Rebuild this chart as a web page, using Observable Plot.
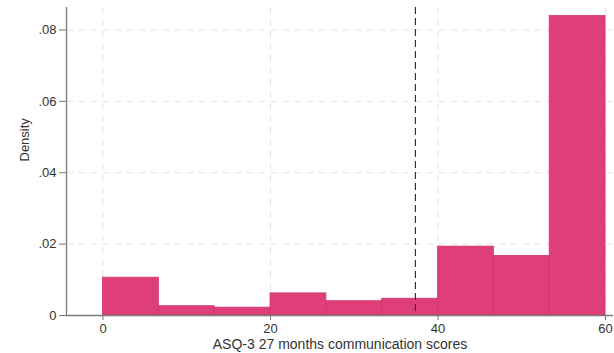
<!DOCTYPE html>
<html>
<head>
<meta charset="utf-8">
<script src="https://cdn.jsdelivr.net/npm/d3@7"></script>
<script src="https://cdn.jsdelivr.net/npm/@observablehq/plot@0.6"></script>
<style>
  html, body { margin: 0; padding: 0; background: #fff; }
  #chart svg { display: block; font-family: "Liberation Sans", Arial, sans-serif; }
</style>
</head>
<body>
<div id="chart"></div>
<script>
// Histogram bins of ASQ-3 communication scores at 27 months (density scale)
const binLower = [0, 6.667, 13.333, 20, 26.667, 33.333, 40, 46.667, 53.333];
const binUpper = [6.667, 13.333, 20, 26.667, 33.333, 40, 46.667, 53.333, 60];
const density  = [0.0106, 0.0026, 0.0022, 0.0062, 0.0040, 0.0047, 0.0193, 0.0167, 0.0839];

// Cut-off score marked by the dashed reference line
const cutoff = [37.3];

const xTicks = [0, 20, 40, 60];
const yTicks = [0, 0.02, 0.04, 0.06, 0.08];
const xLabel = "ASQ-3 27 months communication scores";
const yLabel = "Density";

const bins = binLower.map((lo, i) => ({lo, hi: binUpper[i], d: density[i]}));

const axisColor = "#7a7a7a";
const gridColor = "#e6e6e6";
const xMin = -4.36, xMax = 60.95, yMax = 0.0863;

const fmtY = v => v === 0 ? "0" : d3.format(".2f")(v).replace(/^0/, "");

const chart = Plot.plot({
  width: 614,
  height: 353,
  marginLeft: 66,
  marginRight: 1,
  marginTop: 7,
  marginBottom: 38,
  style: {fontSize: "13px", fontFamily: "'Liberation Sans', Arial, sans-serif", color: "#333"},
  x: {domain: [xMin, xMax]},
  y: {domain: [0, yMax]},
  marks: [
    Plot.gridY(yTicks.filter(v => v > 0), {stroke: gridColor, strokeOpacity: 1, strokeDasharray: "7,5"}),
    Plot.gridX(xTicks, {stroke: gridColor, strokeOpacity: 1, strokeDasharray: "7,5"}),
    Plot.rectY(bins, {x1: "lo", x2: "hi", y: "d", fill: "#de3e79", stroke: "#d4336d", strokeWidth: 0.8, inset: 0}),
    Plot.ruleX(cutoff, {stroke: "#333", strokeWidth: 1.2, strokeDasharray: "7,4"}),
    Plot.ruleX([xMin], {stroke: axisColor, strokeWidth: 1.3}),
    Plot.ruleY([0], {stroke: axisColor, strokeWidth: 1.3}),
    Plot.axisY(yTicks, {
      tickFormat: fmtY, tickSize: 7, tickPadding: 3, stroke: axisColor,
      fill: "#333", fontSize: 13, label: null
    }),
    Plot.axisX(xTicks, {
      tickSize: 5, tickPadding: 3, stroke: axisColor,
      fill: "#333", fontSize: 13, label: null
    }),
    Plot.text([yLabel], {
      frameAnchor: "left", dx: -42, rotate: -90, text: d => d,
      fontSize: 13, fill: "#333"
    }),
    Plot.text([xLabel], {
      frameAnchor: "bottom", dy: 33.5, text: d => d,
      fontSize: 14, fill: "#333"
    })
  ]
});

document.getElementById("chart").appendChild(chart);
</script>
</body>
</html>
